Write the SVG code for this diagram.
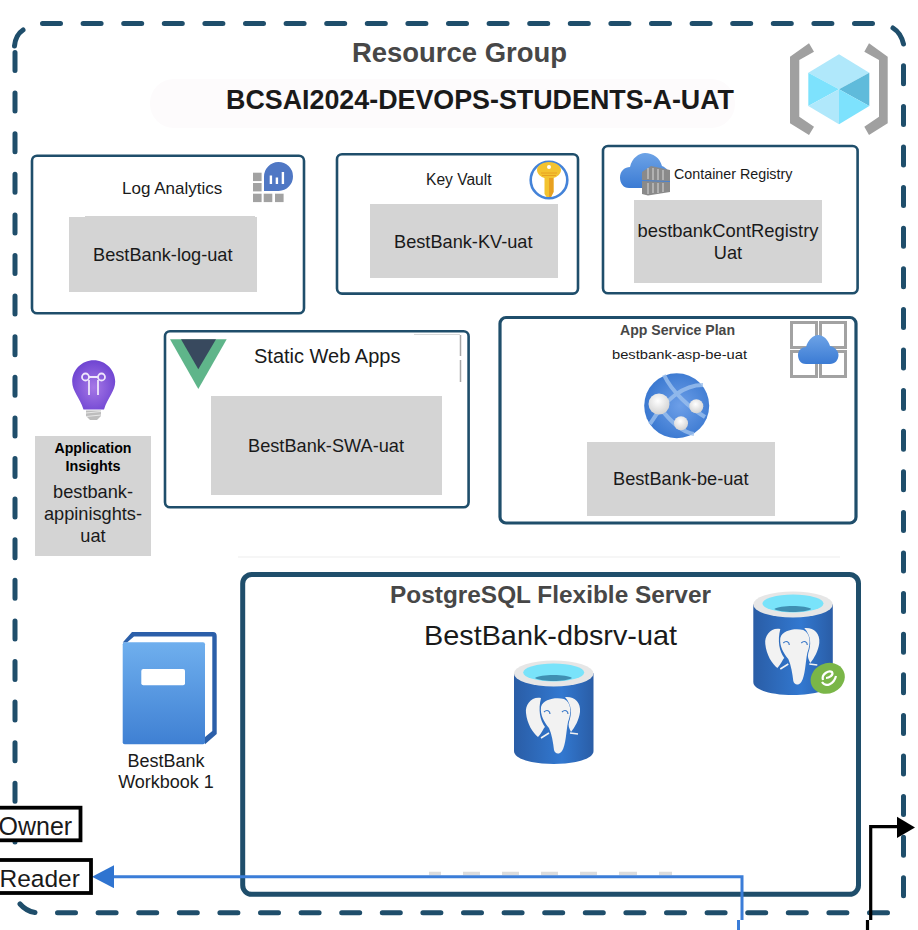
<svg xmlns="http://www.w3.org/2000/svg" width="918" height="930" viewBox="0 0 918 930">
<style>
text{font-family:"Liberation Sans",Arial,sans-serif;fill:#1a1a1a}
.box{fill:#fff;stroke:#1f4e6b;stroke-width:2.6}
.thick{stroke-width:3.2}
.gray{fill:#d4d4d4}
.c{text-anchor:middle}
.n{font-size:18.2px}
.h{font-weight:bold;fill:#474747}
.k{font-size:14.5px;font-weight:bold;fill:#000}
.dash{fill:none;stroke:#1f4e6b;stroke-width:5;stroke-linecap:round;stroke-dasharray:18 22.6}
.curve{fill:none;stroke:#1f4e6b;stroke-width:5;stroke-linecap:round}
.sq{fill:none;stroke:#a2a2a2;stroke-width:3}
.role{fill:#fff;stroke:#000;stroke-width:3.8}
</style>
<defs>
<linearGradient id="cloud" x1="0" y1="0" x2="0" y2="1"><stop offset="0" stop-color="#6da3e6"/><stop offset="1" stop-color="#3b7bd4"/></linearGradient>
<linearGradient id="book" x1="0" y1="0" x2="0" y2="1"><stop offset="0" stop-color="#6fafee"/><stop offset="1" stop-color="#3f80d3"/></linearGradient>
<linearGradient id="cyl" x1="0" y1="0" x2="1" y2="0"><stop offset="0" stop-color="#2a5da6"/><stop offset=".6" stop-color="#3278d0"/><stop offset="1" stop-color="#2a5da6"/></linearGradient>
<radialGradient id="bulb" cx=".5" cy=".55" r=".6"><stop offset="0" stop-color="#a678e6"/><stop offset="1" stop-color="#6a40d0"/></radialGradient>
<radialGradient id="globe" cx=".55" cy=".5" r=".55"><stop offset="0" stop-color="#6d9fe8"/><stop offset="1" stop-color="#3a78d0"/></radialGradient>
<radialGradient id="ball" cx=".45" cy=".35" r=".7"><stop offset="0" stop-color="#fff"/><stop offset="1" stop-color="#cfcfcf"/></radialGradient>
<marker id="blueHead" markerUnits="userSpaceOnUse" markerWidth="23" markerHeight="23" refX="0" refY="11.5" orient="auto"><path d="M0 0L22 11.5L0 23Z" fill="#2f74d0"/></marker>
<g id="pg">
<path d="M514 673V751C514 759 532 764 553.7 764C575 764 593.5 759 593.5 751V673Z" fill="url(#cyl)"/>
<ellipse cx="553.7" cy="673.5" rx="39.8" ry="13" fill="#e6e6e6"/>
<ellipse cx="553.7" cy="672.5" rx="30.5" ry="9" fill="#79e3fa"/>
<path d="M535 678C540 674 567 674 572 678C566 682 541 682 535 678Z" fill="#3f8fb2"/>
<path d="M541 707C543 699 556 697 564 699C571 702 572 712 568 722C566 732 566 745 562 751C559 755 555 754 554 750C553 742 552 735 549 728C544 722 540 715 541 707Z" fill="#f2f2f2"/>
<path d="M541 698C532 696 525 704 526 713C527 724 533 733 538 737C542 733 543 729 545 727C540 720 538 710 541 698Z" fill="#f2f2f2"/>
<path d="M565 697C574 696 581 702 580 712C579 720 575 727 571 732C569 728 568 726 569 722C572 714 572 705 565 697Z" fill="#f2f2f2"/>
<path d="M541 738L549 733M570 733L578 734" stroke="#f2f2f2" stroke-width="1.6" fill="none"/>
<path d="M544 712C547 709 550 711 550 714M562 712C565 709 568 711 568 714" stroke="#3a78c8" stroke-width="1.2" fill="none"/>
</g>
</defs>

<g id="resource-group">
<path class="dash" d="M42.5 23.5H874M903.5 65.8V896M15 52.5V885M57.5 912.7H888"/>
<path class="curve" d="M14.5 46Q15.5 35 23 30M893 28Q901 33 903.5 44M20 904Q26 911 35 912.5"/>
<text class="h" x="352" y="62" font-size="28" textLength="215" lengthAdjust="spacingAndGlyphs">Resource Group</text>
<rect x="150" y="79" width="585" height="49" rx="24" fill="#fdfbfc"/>
<text x="226" y="109" font-size="27" font-weight="bold" textLength="508" lengthAdjust="spacingAndGlyphs">BCSAI2024-DEVOPS-STUDENTS-A-UAT</text>
<g id="rg-icon">
<path d="M790 56.7L809 43.3L814 51.7L799.3 60V116.7L814 126.7L809 135L790 123.3Z" fill="#a0a0a0"/>
<path d="M887.7 56.7L869 43.3L864.3 51.7L879 60V116.7L864.3 126.7L869 135L887.7 123.3Z" fill="#a0a0a0"/>
<path d="M839 54.3L869.3 72.7L839 89.3L808.3 72.7Z" fill="#b0e8fb"/>
<path d="M869.3 72.7V106L839 89.3Z" fill="#5fbbdb"/>
<path d="M808.3 72.7L839 89.3L808.3 106Z" fill="#7de2fd"/>
<path d="M808.3 106L839 89.3V124.3Z" fill="#b0e8fb"/>
<path d="M839 89.3L869.3 106L839 124.3Z" fill="#7de2fd"/>
</g>
</g>

<g id="log-analytics">
<rect class="box" x="32" y="155.8" width="272" height="157.4" rx="5"/>
<rect class="gray" x="69" y="217" width="188" height="75"/>
<rect class="gray" x="85" y="216" width="170" height="2"/>
<text x="122" y="194" font-size="17">Log Analytics</text>
<text class="n" x="93" y="261">BestBank-log-uat</text>
<g fill="#a2a2a2"><rect x="253" y="172.7" width="8.6" height="8.4"/><rect x="253" y="183" width="8.6" height="8.4"/><rect x="253" y="193.7" width="8.6" height="8.4"/><rect x="263.7" y="193.7" width="8.6" height="8.4"/><rect x="275" y="193.7" width="8.6" height="8.4"/></g>
<path d="M264 191V176.7A14.5 14.5 0 1 1 278.7 191Z" fill="#4f77c4"/>
<path d="M269.7 175.5h2.4v8.6h-2.4ZM275.7 177.5h2.4v6.6h-2.4ZM281.7 172h2.4v12.1h-2.4Z" fill="#fff"/>
</g>

<g id="key-vault">
<rect class="box" x="337" y="154.2" width="241" height="139.4" rx="5"/>
<rect class="gray" x="370" y="204" width="188" height="74"/>
<text x="426" y="184.6" font-size="15.6">Key Vault</text>
<text class="n" x="394" y="248">BestBank-KV-uat</text>
<circle cx="549" cy="180" r="18.3" fill="#fff" stroke="#4483d8" stroke-width="2.6"/>
<path d="M549 162C556 162 561 166 561 170C561 174 557 177 553.5 178V192L551 197H546.5L544.5 194V178C541 177 537 174 537 170C537 166 542 162 549 162Z" fill="#f3c32f"/>
<path d="M549 178H553.5V192L551 197H549Z" fill="#e8a020"/>
<circle cx="549" cy="167" r="2" fill="#fff"/>
<path d="M541 173H557M542 175.5H556" stroke="#e8a020" stroke-width="1"/>
</g>

<g id="container-registry">
<rect class="box" x="603" y="146" width="254.6" height="147.2" rx="5"/>
<rect class="gray" x="634" y="200" width="188" height="83"/>
<text x="674" y="179" font-size="14.3">Container Registry</text>
<text class="c" x="728" y="237" font-size="18.4">bestbankContRegistry</text>
<text class="n c" x="728" y="259">Uat</text>
<path d="M629 188C623 188 620 183 620 177.5C620 171 625 167 630 167C632 158 639 153 645 153C653 153 660 158 662 166C667 168 670 172 670 178V188Z" fill="url(#cloud)"/>
<path d="M642 172L651 166L670 170V181L642 180Z" fill="#8a8a8a"/>
<path d="M642 181L670 182V192L648 195.5L642 194Z" fill="#8a8a8a"/>
<path d="M648 168V179M653 168V180M658 169V180M663 170V180M648 183V194M653 183V193M658 183V193M663 183V192" stroke="#c2c2c2" stroke-width="1.4"/>
</g>

<g id="application-insights">
<path d="M93.7 360.3C105.6 360.3 115.2 370 115.2 381.5C115.2 391 108 397 104 409.5H83.5C79.5 397 72.2 391 72.2 381.5C72.2 370 81.8 360.3 93.7 360.3Z" fill="url(#bulb)"/>
<path d="M86 410.5H101V416L97 420H90L86 416Z" fill="#bdbdbd"/>
<path d="M86 413L101 411.5M86 416.5L101 415" stroke="#e8e8e8" stroke-width="1"/>
<g fill="none" stroke="#efe6fb" stroke-width="1.8"><circle cx="85.5" cy="377" r="3.5"/><circle cx="101.5" cy="377" r="3.5"/><path d="M89 377H98M89 380V395M98 380V395"/></g>
<rect class="gray" x="35" y="436" width="116" height="120"/>
<text class="k c" x="93" y="453" textLength="77" lengthAdjust="spacingAndGlyphs">Application</text>
<text class="k c" x="93" y="471" textLength="55" lengthAdjust="spacingAndGlyphs">Insights</text>
<text class="n c" x="93" y="498">bestbank-</text>
<text class="n c" x="93" y="520">appinisghts-</text>
<text class="n c" x="93" y="542">uat</text>
</g>

<g id="static-web-apps">
<rect class="box" x="165" y="331.2" width="303.6" height="176" rx="5"/>
<rect class="gray" x="211" y="396" width="231" height="99"/>
<path d="M460.5 335V356M460.5 360V382" stroke="#a8a8a8" stroke-width="1.5" fill="none"/>
<path d="M414 334.5H460" stroke="#d8d8d8" stroke-width="1" fill="none"/>
<path d="M170 339.3H226.7L198.3 389Z" fill="#5fb58a"/>
<path d="M181 339.3H216L198.3 369.3Z" fill="#38495e"/>
<text x="254" y="363" font-size="20">Static Web Apps</text>
<text class="n" x="248" y="452">BestBank-SWA-uat</text>
</g>

<g id="app-service-plan">
<rect class="box thick" x="500" y="317.5" width="356" height="205.5" rx="6"/>
<rect class="gray" x="587" y="442" width="188" height="74"/>
<text class="h" x="620" y="335" font-size="14" textLength="115" lengthAdjust="spacingAndGlyphs">App Service Plan</text>
<text x="612" y="359" font-size="13.6" textLength="135" lengthAdjust="spacingAndGlyphs">bestbank-asp-be-uat</text>
<text class="n" x="613" y="485">BestBank-be-uat</text>
<rect class="sq" x="791.5" y="322.5" width="25" height="25"/><rect class="sq" x="820.5" y="322.5" width="25" height="25"/><rect class="sq" x="791.5" y="351.5" width="25" height="25"/><rect class="sq" x="820.5" y="351.5" width="25" height="25"/>
<path d="M806 364C800 364 798 359 798 355C798 350 802 347 806 347C808 340 813 335 818 335C824 335 828 340 830 346C835 347 838.5 351 838.5 355C838.5 360 835 364 830 364Z" fill="url(#cloud)"/>
<circle cx="676.7" cy="405.7" r="32.5" fill="url(#globe)"/>
<path d="M664 375C672 392 690 408 705 417M650 424C665 400 682 385 703 385M660 408C668 418 680 432 694 434" stroke="#9cc0ee" stroke-width="4" fill="none" opacity=".8"/>
<circle cx="659" cy="404" r="10.5" fill="url(#ball)"/><circle cx="696.3" cy="406.3" r="7" fill="url(#ball)"/><circle cx="681" cy="423.3" r="7" fill="url(#ball)"/>
</g>

<g id="postgresql-server">
<path d="M238 557H840" stroke="#f3f3f3" stroke-width="1.5" fill="none"/>
<rect class="box" x="242.7" y="574.5" width="615.8" height="319.8" rx="9" style="stroke-width:5"/>
<path d="M429 873.5H441M463 873.5H480M502 873.5H519M541 873.5H558M580 873.5H597M619 873.5H637M659 873.5H672" stroke="#dcdcdc" stroke-width="3.5" fill="none"/>
<text class="h" x="390" y="603" font-size="23" textLength="321" lengthAdjust="spacingAndGlyphs">PostgreSQL Flexible Server</text>
<text x="424" y="645" font-size="28" textLength="253" lengthAdjust="spacingAndGlyphs">BestBank-dbsrv-uat</text>
<use href="#pg"/>
<use href="#pg" x="239.3" y="-69"/>
<ellipse cx="827.7" cy="678.3" rx="17.5" ry="15" transform="rotate(-25 827.7 678.3)" fill="#7ab648"/>
<path d="M823 680C821 674 829 670 832 672C834 675 829 678 826 678M822 682C826 688 834 684 836 676" stroke="#fff" stroke-width="2.2" fill="none"/>
</g>

<g id="workbook">
<path d="M122.7 642.5L132 632H213C215.5 632 216.7 633.5 216.7 636V734L205 744.3V737L212.3 731V636.5H134L127 642.5Z" fill="#2b5fa9"/>
<rect x="122.7" y="642.3" width="82.3" height="102" rx="2" fill="url(#book)"/>
<rect x="141.3" y="669" width="43.7" height="16.3" rx="2" fill="#fff"/>
<text class="c" x="166" y="767" font-size="18">BestBank</text>
<text class="c" x="166" y="788" font-size="18">Workbook 1</text>
</g>

<g id="connectors" fill="none">
<path d="M742 920V876.7H114" stroke="#3b7dd8" stroke-width="3" marker-end="url(#blueHead)"/>
<path d="M738.5 920V930" stroke="#3b7dd8" stroke-width="3"/>
<path d="M870.7 920V826.7H898" stroke="#000" stroke-width="3.2"/>
<path d="M867.5 920V930" stroke="#000" stroke-width="3.2"/>
<path d="M897 816.7L915 827.5L897 838Z" fill="#000"/>
</g>

<g id="owner">
<rect class="role" x="-10" y="807.7" width="90.5" height="32.6"/>
<text x="-1.5" y="835" font-size="25">Owner</text>
</g>
<g id="reader">
<rect class="role" x="-10" y="860" width="101" height="33"/>
<text x="-0.5" y="887" font-size="24.5">Reader</text>
</g>
</svg>
